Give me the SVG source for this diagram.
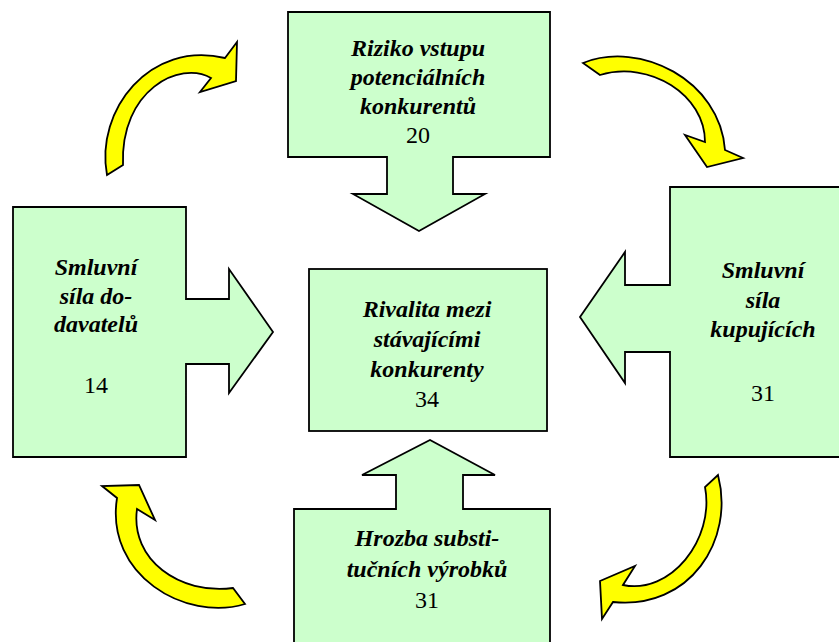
<svg xmlns="http://www.w3.org/2000/svg" width="839" height="642" viewBox="0 0 839 642">
<style>
.node{fill:#CCFFCC;stroke:#000;stroke-width:1.8;stroke-linejoin:miter}
.cyc{fill:#FFFF00;stroke:#000;stroke-width:1.8;stroke-linejoin:miter}
</style>
<rect width="839" height="642" fill="#fff"/>
<g id="connectors">
<path class="cyc" d="M107,175 C95,110 150,40 225,58 L237,42 L236,81 L200,92 L211,78 C180,60 120,90 123,165 Z"/>
<path class="cyc" d="M583,63 C640,40 720,80 725,150 L743,158 L707,167 L685,135 L705,142 C705,95 650,60 600,75 Z"/>
<path class="cyc" d="M245,604 C185,622 105,575 117,498 L102,486 L139,485 L155,520 L137,509 C130,560 180,595 233,588 Z"/>
<path class="cyc" d="M718,475 C735,540 690,610 613,602 L602,619 L600,581 L635,566 L623,585 C670,595 715,540 705,487 Z"/>
</g>
<g font-family="Liberation Serif, DejaVu Serif, serif" font-size="24" fill="#000" text-anchor="middle">
<g id="node-top">
<path class="node" d="M288,12 L550,12 L550,157 L453,157 L453,194 L485,194 L419,231 L353,194 L387,194 L387,157 L288,157 Z"/>
<g font-weight="bold" font-style="italic">
<text x="418" y="56">Riziko vstupu</text>
<text x="418" y="85">potenciálních</text>
<text x="418" y="114">konkurentů</text>
</g>
<text x="418" y="143">20</text>
</g>
<g id="node-left">
<path class="node" d="M13,207 L186,207 L186,299 L229,299 L229,269 L273,332 L229,393 L229,364 L186,364 L186,457 L13,457 Z"/>
<g font-weight="bold" font-style="italic">
<text x="96" y="275">Smluvní</text>
<text x="96" y="304">síla do-</text>
<text x="96" y="332">davatelů</text>
</g>
<text x="96" y="393">14</text>
</g>
<g id="node-right">
<path class="node" d="M670,187 L850,187 L850,457 L670,457 L670,352 L625,352 L625,383 L580,317 L625,252 L625,285 L670,285 Z"/>
<g font-weight="bold" font-style="italic">
<text x="763" y="278">Smluvní</text>
<text x="763" y="308">síla</text>
<text x="763" y="337">kupujících</text>
</g>
<text x="763" y="401">31</text>
</g>
<g id="node-center">
<rect class="node" x="309" y="269" width="238" height="162"/>
<g font-weight="bold" font-style="italic">
<text x="427" y="317">Rivalita mezi</text>
<text x="427" y="347">stávajícími</text>
<text x="427" y="377">konkurenty</text>
</g>
<text x="427" y="407">34</text>
</g>
<g id="node-bottom">
<path class="node" d="M294,509 L396,509 L396,475 L362,475 L430,440 L495,475 L463,475 L463,509 L550,509 L550,650 L294,650 Z"/>
<g font-weight="bold" font-style="italic">
<text x="427" y="546">Hrozba substi-</text>
<text x="427" y="577">tučních výrobků</text>
</g>
<text x="427" y="608">31</text>
</g>
</g>
</svg>
